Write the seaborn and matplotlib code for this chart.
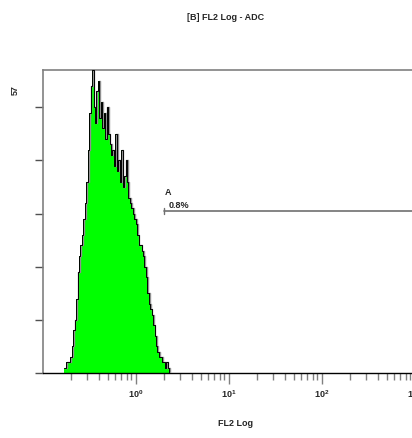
import numpy as np
import pandas as pd
import matplotlib
matplotlib.use("Agg")
import matplotlib.pyplot as plt
import seaborn as sns

# FL2 log histogram, 64 channels per decade, axis from 10^-1 to 10^3
first_channel = 15
counts = [1, 2, 2, 2, 3, 5, 8, 10, 14, 19,
          22, 24, 26, 29, 32, 36, 42, 49, 54, 57,
          50, 47, 53, 55, 48, 51, 46, 49, 44, 50,
          45, 43, 41, 42, 39, 45, 38, 40, 36, 42,
          35, 37, 40, 36, 33, 32, 31, 30, 29, 28,
          26, 24, 24, 23, 22, 20, 18, 15, 13, 12,
          11, 9, 7, 5, 4, 3, 3, 2, 2, 1,
          2, 1]
y_max = 57
gate_name = "A"
gate_pct = "0.8%"
gate_start = 2.02
gate_end = 1000
gate_level = 30.5
x_ticks = [1, 10, 100, 1000]
x_tick_labels = [r"$\mathbf{10^{0}}$", r"$\mathbf{10^{1}}$", r"$\mathbf{10^{2}}$", r"$\mathbf{10^{3}}$"]
title = "[B] FL2 Log - ADC"
xlabel = "FL2 Log"

chan = np.arange(first_channel, first_channel + len(counts) + 1)
edges = 10 ** (-1 + chan / 64)
df = pd.DataFrame({"edge": edges, "count": counts + [0]})

sns.set_style("white")
plt.rcParams['font.family'] = ['Liberation Sans', 'DejaVu Sans']
plt.rcParams['mathtext.fontset'] = 'custom'
plt.rcParams['mathtext.bf'] = 'Liberation Sans:bold'
plt.rcParams['mathtext.rm'] = 'Liberation Sans'

fig = plt.figure(figsize=(4.12, 4.38), dpi=100)
ax = fig.add_axes([42.7 / 412, 1 - 373 / 438, 372 / 412, 303 / 438])
ax.set_xscale("log")

ax.fill_between(df["edge"], df["count"], step="post", color="#00ff00", linewidth=0, zorder=2)
# gray shadow then black outline
ax.step(df["edge"] * 10 ** (0.8 / 93), df["count"], where="post", color="#909090", lw=1.0, zorder=3)
sns.lineplot(data=df, x="edge", y="count", drawstyle="steps-post", color="black", lw=0.7, ax=ax, zorder=4)

# gate
ax.plot([gate_start, gate_end], [gate_level, gate_level], color="#707070", lw=1.2, zorder=5)
ax.plot([gate_start, gate_start], [gate_level - 0.6, gate_level + 0.6], color="#707070", lw=1.0, zorder=5)
ax.text(gate_start * 1.02, gate_level + 2.6, gate_name, fontsize=6.5, fontweight="bold", va="bottom", ha="left")
ax.text(gate_start * 1.13, gate_level + 0.2, gate_pct, fontsize=6.5, fontweight="bold", va="bottom", ha="left")

ax.set_xlim(0.1, 1000)
ax.set_ylim(0, y_max)
ax.set_xticks(x_ticks)
ax.set_xticklabels(x_tick_labels, fontsize=6.5)
ax.set_yticks([0, 10, 20, 30, 40, 50])
ax.set_yticklabels([])
ax.tick_params(axis="x", which="major", direction="out", length=8, width=1, color="#808080", pad=3, bottom=True)
ax.tick_params(axis="x", which="minor", direction="out", length=5, width=1, color="#808080", bottom=True)
ax.tick_params(axis="y", direction="out", length=6, width=1, color="#505050", left=True)
ax.set_xlabel("")
ax.set_ylabel("")

for s in ["left", "top"]:
    ax.spines[s].set_color("#808080")
    ax.spines[s].set_linewidth(1.2)
ax.spines["bottom"].set_color("black")
ax.spines["bottom"].set_linewidth(1.0)
ax.spines["right"].set_visible(False)

fig.text(226 / 412, 1 - 17 / 438, title, ha="center", va="center", fontsize=6.5, fontweight="bold")
fig.text(236 / 412, 1 - 423 / 438, xlabel, ha="center", va="center", fontsize=6.5, fontweight="bold")
fig.text(15 / 412, 1 - 90 / 438, str(y_max), ha="center", va="center", rotation=90, fontsize=6.5, fontweight="bold")

fig.savefig("out.png", dpi=100)
